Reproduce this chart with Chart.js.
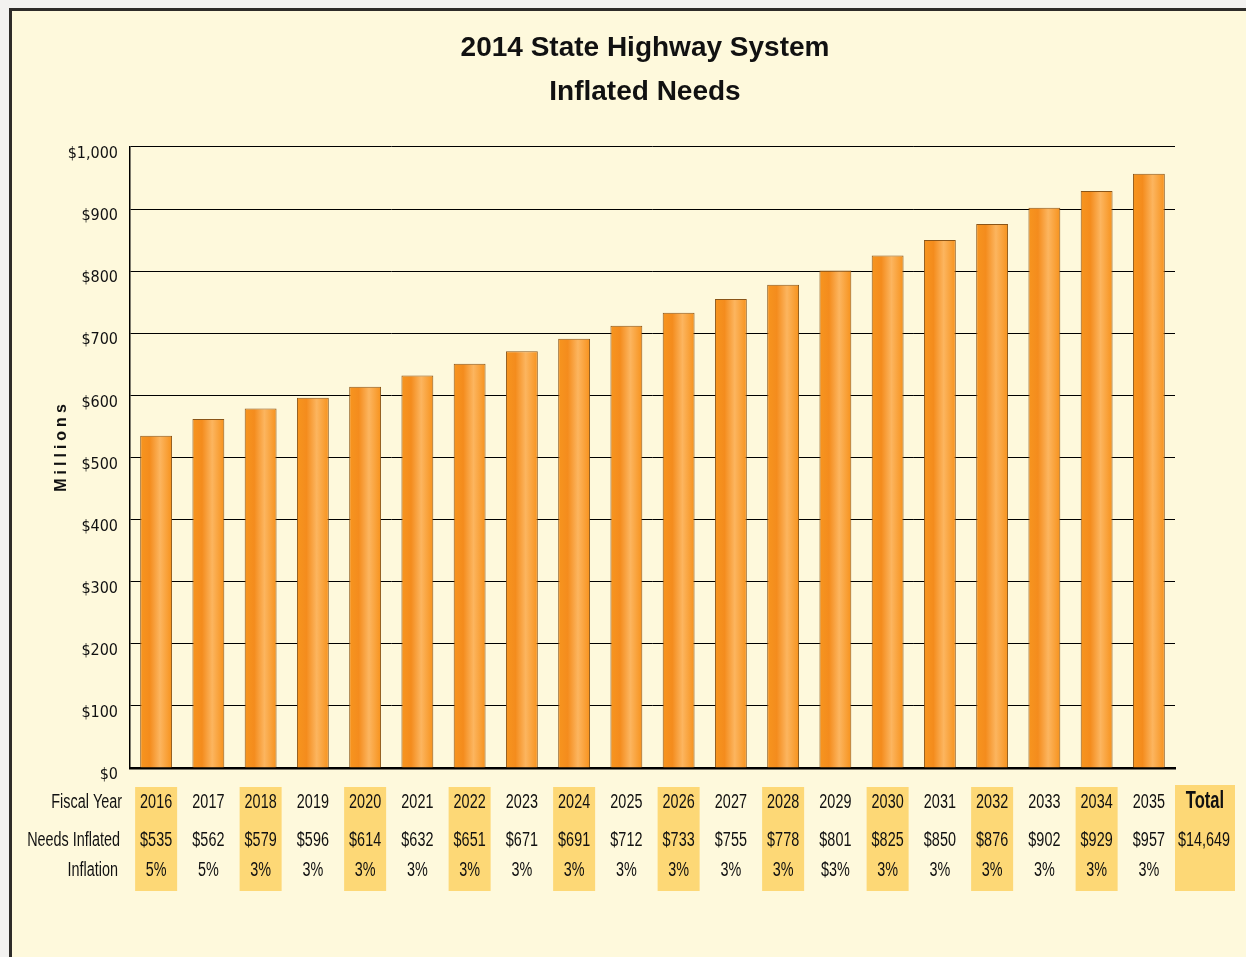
<!DOCTYPE html>
<html>
<head>
<meta charset="utf-8">
<script src="https://cdn.jsdelivr.net/npm/chart.js@4"></script>
<style>
  html, body { margin: 0; padding: 0; background: #f3f2f0; overflow: hidden; }
  #frame {
    position: absolute; left: 9px; top: 8px; width: 1260px; height: 980px;
    border-left: 3px solid #2e2c29; border-top: 3px solid #2e2c29;
    background: #fef9dc;
  }
  #wrap { position: absolute; left: 0; top: 0; width: 1246px; height: 957px; }
</style>
</head>
<body>
<div id="frame"></div>
<div id="wrap"><canvas id="grafico"></canvas></div>
<script>
const years = ['2016', '2017', '2018', '2019', '2020', '2021', '2022', '2023', '2024', '2025',
               '2026', '2027', '2028', '2029', '2030', '2031', '2032', '2033', '2034', '2035'];
const needsInflated = [535, 562, 579, 596, 614, 632, 651, 671, 691, 712,
                       733, 755, 778, 801, 825, 850, 876, 902, 929, 957];
const inflation = ['5%', '5%', '3%', '3%', '3%', '3%', '3%', '3%', '3%', '3%',
                   '3%', '3%', '3%', '$3%', '3%', '3%', '3%', '3%', '3%', '3%'];
const totalNeeds = 14649;
const yTicks = [0, 100, 200, 300, 400, 500, 600, 700, 800, 900, 1000];

const sans = '"Liberation Sans", Arial, sans-serif';
const barPct = 0.61;

function dinero(v) {
    return '$' + v.toLocaleString('en-US');
}

// texto estrecho (la fuente original es condensada)
function textoEstrecho(ctx, txt, x, y, align) {
    ctx.save();
    ctx.translate(x, y);
    ctx.scale(0.72, 1);
    ctx.textAlign = align;
    ctx.fillText(txt, 0, 0);
    ctx.restore();
}

// degradado horizontal de cada barra
function barGradient(c) {
    const chart = c.chart;
    if (!chart.chartArea || c.type !== 'data') return '#f7941d';
    const xs = chart.scales.x;
    const cx = xs.getPixelForValue(c.dataIndex);
    const w = xs.width / years.length * barPct;
    const g = chart.ctx.createLinearGradient(cx - w / 2, 0, cx + w / 2, 0);
    g.addColorStop(0, '#f7951f');
    g.addColorStop(0.3, '#f48c1d');
    g.addColorStop(0.62, '#fcb55f');
    g.addColorStop(1, '#f7921c');
    return g;
}

// tabla de datos bajo el grafico
const tablaPlugin = {
    id: 'tabla',
    afterDraw(chart) {
        const ctx = chart.ctx;
        const xs = chart.scales.x;
        const rows = [802, 840, 870];
        const top = 787, h = 104;
        ctx.save();
        ctx.fillStyle = '#fdd876';
        years.forEach((y, i) => {
            if (i % 2 === 0) {
                const cx = xs.getPixelForValue(i);
                ctx.fillRect(cx - 21, top, 42, h);
            }
        });
        const totalX = xs.right + 30;
        ctx.fillRect(totalX - 30, top - 2, 60, h + 2);

        ctx.fillStyle = '#111';
        ctx.textBaseline = 'middle';
        ctx.font = '20px ' + sans;
        textoEstrecho(ctx, 'Fiscal Year', xs.left - 8, rows[0], 'right');
        textoEstrecho(ctx, 'Needs Inflated', xs.left - 10, rows[1], 'right');
        textoEstrecho(ctx, 'Inflation', xs.left - 12, rows[2], 'right');

        years.forEach((y, i) => {
            const cx = xs.getPixelForValue(i);
            textoEstrecho(ctx, y, cx, rows[0], 'center');
            textoEstrecho(ctx, dinero(needsInflated[i]), cx, rows[1], 'center');
            textoEstrecho(ctx, inflation[i], cx, rows[2], 'center');
        });
        textoEstrecho(ctx, dinero(totalNeeds), totalX - 1, rows[1], 'center');
        ctx.font = 'bold 23px ' + sans;
        textoEstrecho(ctx, 'Total', totalX, rows[0], 'center');

        // titulo del eje y
        ctx.translate(62, 448);
        ctx.rotate(-Math.PI / 2);
        ctx.font = 'bold 16px ' + sans;
        ctx.letterSpacing = '4px';
        ctx.textAlign = 'center';
        ctx.fillText('Millions', 2, 0);
        ctx.restore();
    }
};

const ctxGrafico = document.getElementById('grafico').getContext('2d');

new Chart(ctxGrafico, {
    type: 'bar',
    data: {
        labels: years,
        datasets: [{
            label: 'Needs Inflated',
            data: needsInflated,
            backgroundColor: barGradient,
            borderColor: '#8a5518',
            borderWidth: 1,
            barPercentage: barPct,
            categoryPercentage: 1
        }]
    },
    options: {
        responsive: true,
        maintainAspectRatio: false,
        animation: false,
        layout: { padding: { left: 44, right: 0, top: 0, bottom: 0 } },
        plugins: {
            legend: { display: false },
            tooltip: { enabled: false },
            title: {
                display: true,
                text: ['2014 State Highway System', 'Inflated Needs'],
                color: '#111',
                font: { family: sans, size: 28, weight: 'bold', lineHeight: 1.57 },
                padding: { top: 26, bottom: 33 }
            }
        },
        scales: {
            x: {
                ticks: { display: false },
                grid: { display: false },
                border: { color: '#000', width: 2.5 },
                afterFit(scale) { scale.height = 189; }
            },
            y: {
                min: 0,
                max: 1000,
                afterBuildTicks(scale) { scale.ticks = yTicks.map(v => ({ value: v })); },
                afterFit(scale) { scale.width = 86; },
                ticks: {
                    padding: 12,
                    labelOffset: 7,
                    color: '#111',
                    font: { family: '"DejaVu Sans Condensed", "Liberation Sans", sans-serif', size: 16 },
                    callback: v => dinero(v)
                },
                grid: { color: '#000', lineWidth: 1, drawTicks: false },
                border: { color: '#000', width: 1.5 }
            },
            margen: {
                type: 'linear',
                position: 'right',
                ticks: { display: false },
                grid: { display: false },
                border: { display: false },
                afterFit(scale) { scale.width = 71; }
            }
        }
    },
    plugins: [tablaPlugin]
});
</script>
</body>
</html>
